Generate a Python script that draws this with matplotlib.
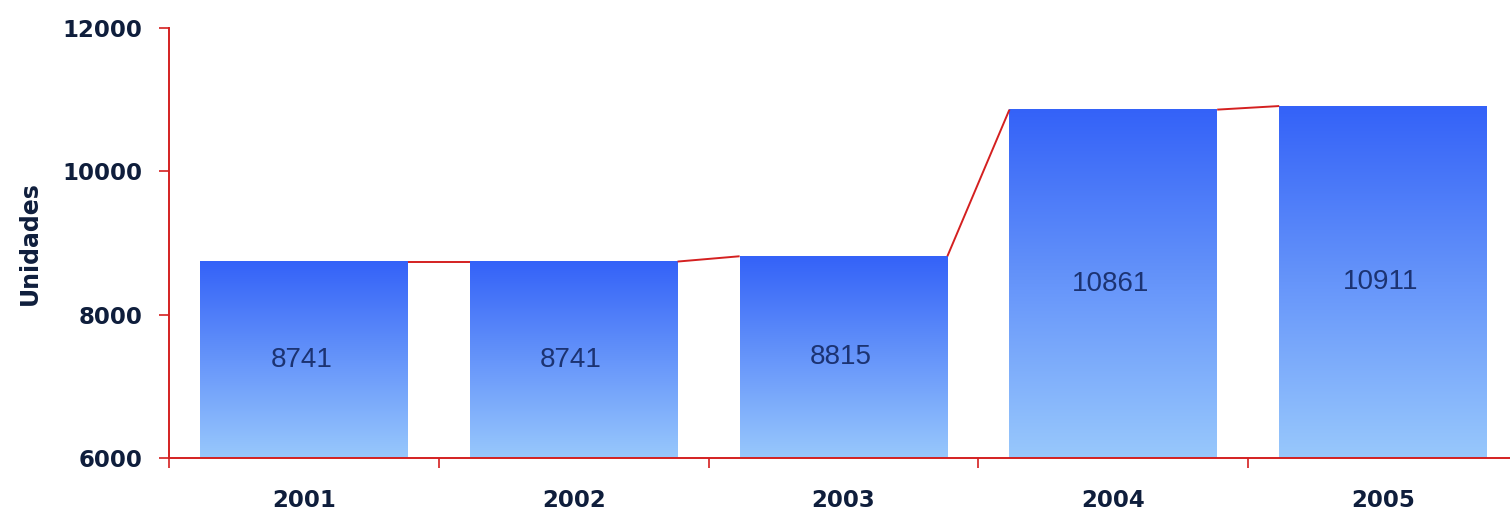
import matplotlib
matplotlib.use("Agg")
import matplotlib.pyplot as plt
import numpy as np
from matplotlib.colors import LinearSegmentedColormap

years = ["2001", "2002", "2003", "2004", "2005"]
values = [8741, 8741, 8815, 10861, 10911]
y_ticks = [6000, 8000, 10000, 12000]

fig = plt.figure(figsize=(15.10, 5.13), dpi=100)
ax = fig.add_axes([169/1510, 1-458/513, 1349/1510, (458-28)/513])

red = "#D42020"
navy = "#0F1E3C"
label_blue = "#1C3372"
ymin, ymax = 6000, 12000
width = 0.77
cmap = LinearSegmentedColormap.from_list("g", ["#98C8FC", "#3462F8"])

x = np.arange(len(years))
bars = ax.bar(x, values, width=width, bottom=0, color="none", zorder=2)
for xi, v, b in zip(x, values, bars):
    grad = np.linspace(0, 1, 256).reshape(-1, 1)
    ax.imshow(grad, cmap=cmap, origin="lower", aspect="auto",
              extent=[xi - width/2, xi + width/2, ymin, v], zorder=1)
    ax.text(xi - 0.01, (ymin + v)/2, str(v), ha="center", va="center",
            fontsize=20, color=label_blue, family="Liberation Sans", zorder=4)

# series lines connecting bar tops
for i in range(len(values) - 1):
    ax.plot([x[i] + width/2, x[i+1] - width/2], [values[i], values[i+1]],
            color=red, lw=1.4, zorder=3, solid_capstyle="butt")

ax.set_xlim(-0.5, len(years) - 0.5)
ax.set_ylim(ymin, ymax)
ax.set_yticks(y_ticks)
ax.set_yticklabels([str(t) for t in y_ticks], fontsize=16.5, fontweight="heavy",
                   color=navy, family="DejaVu Sans")
ax.set_xticks(np.arange(-0.5, len(years), 1.0))
ax.set_xticklabels([])
ax.set_xticks(x, minor=True)
ax.set_xticklabels(years, minor=True, fontsize=16.5, fontweight="heavy",
                   color=navy, family="DejaVu Sans")
ax.tick_params(axis="x", which="major", direction="out", length=7, color=red, width=1.2)
ax.tick_params(axis="x", which="minor", length=0, pad=22)
ax.tick_params(axis="y", direction="out", length=7, color=red, width=1.2, pad=12)

for s in ["top", "right"]:
    ax.spines[s].set_visible(False)
for s in ["left", "bottom"]:
    ax.spines[s].set_color(red)
    ax.spines[s].set_linewidth(1.4)
ax.spines["bottom"].set_zorder(5)

fig.text(30/1510, 1-243/513, "Unidades", rotation=90, ha="center", va="center",
         fontsize=17, fontweight="heavy", color=navy, family="DejaVu Sans")

fig.savefig("out.png", dpi=100, facecolor="white")
